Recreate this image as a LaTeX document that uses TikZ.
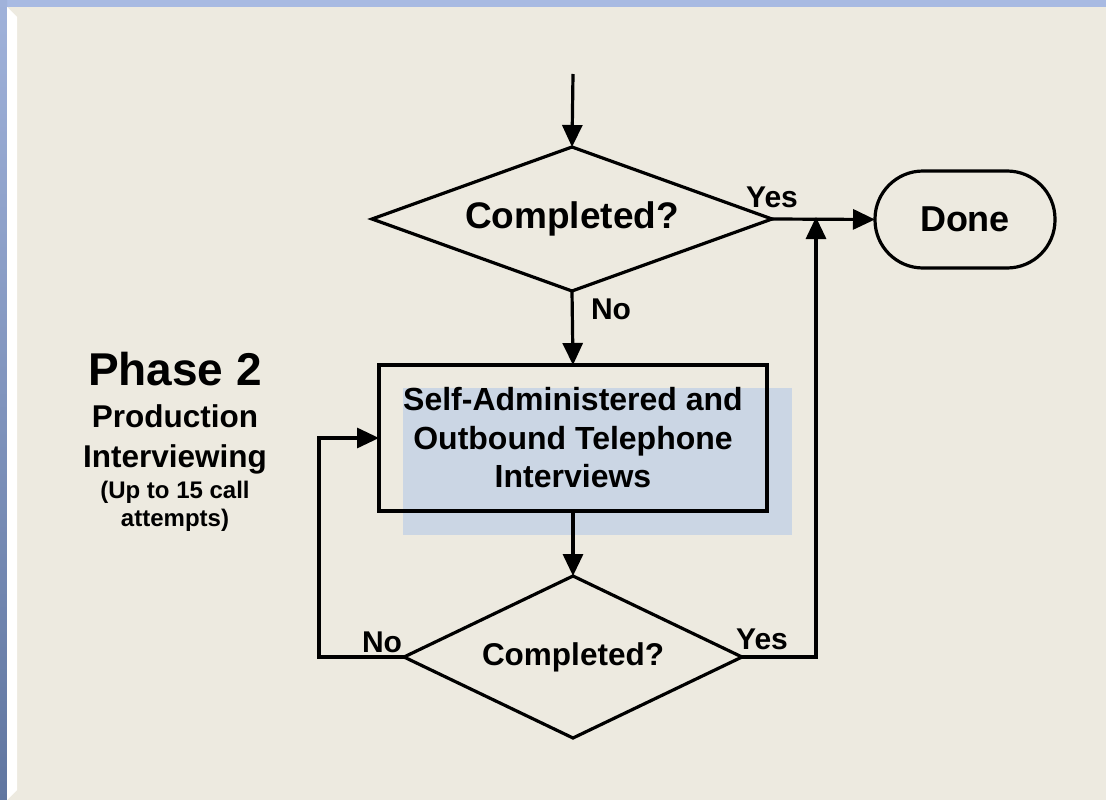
\documentclass[tikz,border=0pt]{standalone}
\usepackage{fontspec}
\setmainfont{Liberation Sans}
\usetikzlibrary{shapes.geometric,arrows.meta,calc}
\definecolor{bgbeige}{RGB}{237,234,224}
\definecolor{bandtop}{RGB}{168,186,226}
\definecolor{bandleftA}{RGB}{160,178,218}
\definecolor{bandleftB}{RGB}{96,118,160}
\definecolor{shadowblue}{RGB}{203,214,228}
\begin{document}
\begin{tikzpicture}[x=1pt,y=-1pt,
  every node/.style={inner sep=0pt,outer sep=0pt},
  conn/.style={line width=3.2pt,draw=black},
  arr/.style={conn,-{Triangle[length=22pt,width=20pt]}},
  decision/.style={draw=black,line width=3.2pt,shape=diamond,aspect=2.78,
    minimum width=400pt,minimum height=144pt},
  decisionsmall/.style={draw=black,line width=3.2pt,shape=diamond,aspect=2.09,
    minimum width=338pt,minimum height=162pt},
  procbox/.style={draw=black,line width=3.2pt,rectangle,minimum width=388pt,
    minimum height=146pt,align=center},
  terminal/.style={draw=black,line width=3.2pt,rectangle,rounded corners=48pt,
    minimum width=180pt,minimum height=97pt},
  lbl/.style={font=\fontsize{30}{36}\selectfont\bfseries},
]
\useasboundingbox (0,0) rectangle (1106,800);
% background frame
\fill[bandtop] (0,0) rectangle (1106,7);
\shade[top color=bandleftA,bottom color=bandleftB] (0,0) rectangle (7,800);
\fill[bgbeige] (7,7) rectangle (1106,800);
\fill[white] (7,7) -- (17,17) -- (17,790) -- (7,800) -- cycle;

% shadow behind process box
\fill[shadowblue] (403,388) rectangle (792,535);

% nodes
\node[decision,font=\fontsize{37}{44}\selectfont\bfseries] (d1) at (572,219) {Completed?};
\node[terminal,font=\fontsize{36}{43}\selectfont\bfseries] (done) at (965,219.5) {Done};
\node[procbox,font=\fontsize{32}{38.5}\selectfont\bfseries] (box) at (573,438)
  {Self-Administered and\\Outbound Telephone\\Interviews};
\node[decisionsmall,font=\fontsize{31.5}{38}\selectfont\bfseries] (d2) at (573,657) {Completed?};

\coordinate (topin) at (573,74);
\coordinate (yj) at (816,219);

% phase label
\node[anchor=base,font=\fontsize{46}{54}\selectfont\bfseries] (ph) at (175,385) {Phase 2};
\node[anchor=base,font=\fontsize{31.5}{38}\selectfont\bfseries] (pr) at (175,427) {Production};
\node[anchor=base,font=\fontsize{31.5}{38}\selectfont\bfseries] (iv) at (175,467) {Interviewing};
\node[anchor=base,font=\fontsize{24}{28}\selectfont\bfseries] (up) at (175,498) {(Up to 15 call};
\node[anchor=base,font=\fontsize{24}{28}\selectfont\bfseries] (at) at (175,526) {attempts)};

% connectors
\draw[arr] (topin) -- (d1.north);
\draw[arr] (d1.east) -- (done.west);
\draw[arr] (d1.south) -- (box.north);
\draw[arr] (box.south) -- (d2.north);
\draw[arr] (d2.west) -- ++(-85,0) |- (box.west);
\draw[arr,shorten >=-2pt] (d2.east) -| (yj);

% labels
\node[lbl] (y1) at (772,197) {Yes};
\node[lbl] (n1) at (611,309) {No};
\node[lbl] (n2) at (382,642) {No};
\node[lbl] (y2) at (762,639) {Yes};
\end{tikzpicture}
\end{document}
